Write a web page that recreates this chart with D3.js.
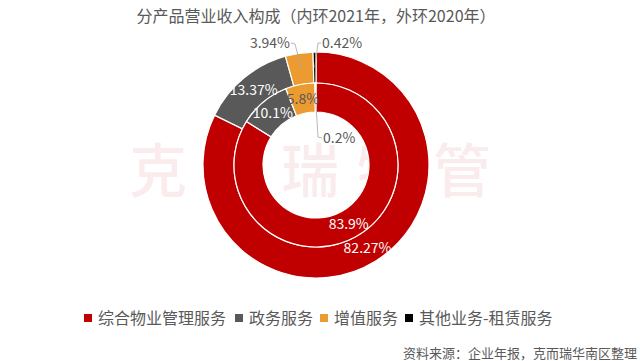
<!DOCTYPE html>
<html><head><meta charset="utf-8">
<script src="https://cdn.jsdelivr.net/npm/d3@7"></script>
<style>
html,body{margin:0;padding:0;background:#fff;}
svg{display:block;font-family:"Noto Sans CJK SC","Microsoft YaHei",sans-serif;}
</style></head>
<body>
<svg id="c" width="640" height="361"></svg>
<script>
const categories = ["综合物业管理服务","政务服务","增值服务","其他业务-租赁服务"];
const outer2020 = [82.27, 13.37, 3.94, 0.42];
const inner2021 = [83.9, 10.1, 5.8, 0.2];
const outerLabels = ["82.27%","13.37%","3.94%","0.42%"];
const innerLabels = ["83.9%","10.1%","5.8%","0.2%"];
const colors = ["#C00000","#595959","#EB9B30","#000000"];
const title = "分产品营业收入构成（内环2021年，外环2020年）";
const source = "资料来源：企业年报，克而瑞华南区整理";
const watermark = ["克","而","瑞","物","管"];

const svg = d3.select("#c");
const cx = 316, cy = 165;
const textColor = "#595959";

// watermark
const wm = d3.scalePoint().domain(watermark).range([158, 462]);
svg.append("g").selectAll("text").data(watermark).join("text")
  .attr("x", d => wm(d)).attr("y", 192)
  .attr("text-anchor","middle").attr("font-size", 58).attr("font-weight", 500)
  .attr("fill","#C00000").attr("fill-opacity",0.075)
  .text(d => d);

// title
svg.append("text").attr("x", 316).attr("y", 22).attr("text-anchor","middle")
  .attr("font-size", 16).attr("fill", textColor).text(title);

const pie = d3.pie().sort(null).value(d => d);
const g = svg.append("g").attr("transform", `translate(${cx},${cy})`);

const rings = [
  {vals: outer2020, labels: outerLabels, r0: 82, r1: 113},
  {vals: inner2021, labels: innerLabels, r0: 53, r1: 82}
];
rings.forEach(ring => {
  const arc = d3.arc().innerRadius(ring.r0).outerRadius(ring.r1);
  const arcs = pie(ring.vals);
  g.append("g").selectAll("path").data(arcs).join("path")
    .attr("d", arc).attr("fill", (d,i) => colors[i])
    .attr("stroke","#fff").attr("stroke-width",1.2);
  ring.arcs = arcs; ring.arc = arc;
});

// centroid labels
function centroidLabel(ring, i, color) {
  const c = ring.arc.centroid(ring.arcs[i]);
  g.append("text").attr("x", c[0]).attr("y", c[1]).attr("dy","0.35em")
    .attr("text-anchor","middle").attr("font-size",14).attr("fill",color)
    .text(ring.labels[i]);
}
centroidLabel(rings[0], 0, "#fff");
centroidLabel(rings[0], 1, "#fff");
centroidLabel(rings[1], 0, "#fff");
centroidLabel(rings[1], 1, "#fff");
centroidLabel(rings[1], 2, textColor);

// leader labels
function leader(ring, i, pts, tx, ty, anchor) {
  const c = ring.arc.centroid(ring.arcs[i]);
  const line = d3.line();
  g.append("path").attr("d", line([c, ...pts])).attr("fill","none")
    .attr("stroke","#A6A6A6").attr("stroke-width",0.8);
  g.append("text").attr("x", tx).attr("y", ty).attr("dy","0.35em")
    .attr("text-anchor", anchor).attr("font-size",14).attr("fill",textColor)
    .text(ring.labels[i]);
}
leader(rings[0], 2, [[-21,-121],[-25,-122]], -26, -122, "end");
leader(rings[0], 3, [[2,-122],[5,-122]], 6, -122, "start");
leader(rings[1], 3, [[2,-28],[6,-27]], 7, -27, "start");

// legend
const legend = svg.append("g");
const legX = [84, 235, 320, 405];
categories.forEach((c, i) => {
  legend.append("rect").attr("x", legX[i]).attr("y", 314).attr("width", 8).attr("height", 8)
    .attr("fill", colors[i]);
  legend.append("text").attr("x", legX[i] + 14).attr("y", 318).attr("dy","0.35em")
    .attr("font-size", 16).attr("fill", textColor).text(c);
});

// source
svg.append("text").attr("x", 637).attr("y", 353).attr("dy","0.35em").attr("text-anchor","end")
  .attr("font-size", 13).attr("fill", textColor).text(source);
</script>
</body></html>
